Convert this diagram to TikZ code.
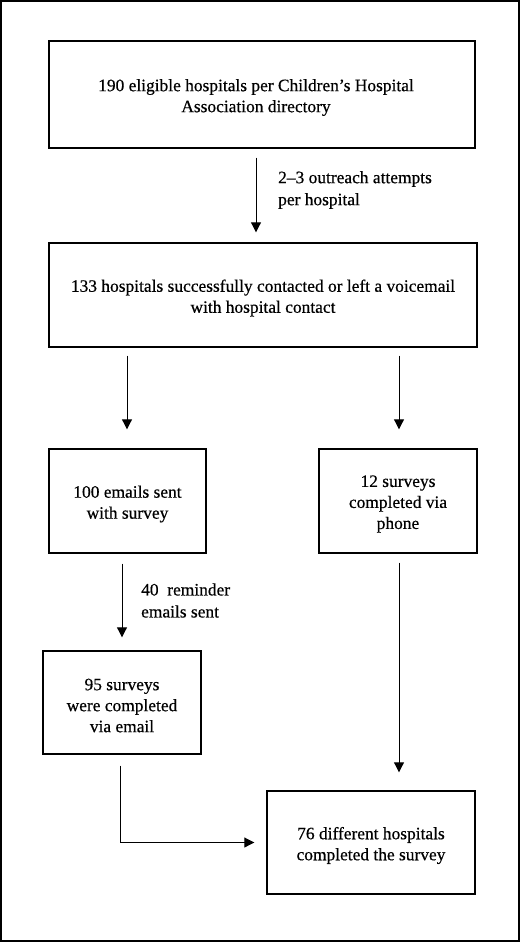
\documentclass[tikz,border=0pt]{standalone}
\usepackage{fontspec}
\setmainfont[FakeBold=0.5]{Liberation Serif}
\usetikzlibrary{arrows.meta}
\tikzset{
  box/.style={draw, line width=1.4pt, inner sep=0pt},
  txt/.style={align=center, inner sep=0pt, yshift=-3pt,
    font=\fontsize{17.4}{21}\selectfont},
  lbl/.style={anchor=west, align=left, inner sep=0pt,
    font=\fontsize{17.4}{22}\selectfont},
  arr/.style={line width=1pt, -{Triangle[length=10pt,width=10pt]}},
}
\begin{document}
\begin{tikzpicture}[x=1pt,y=1pt]
\useasboundingbox (0,0) rectangle (520,-942);
\draw[line width=2pt] (1,-1) rectangle (518.5,-940.5);
\node[box, minimum width=426pt, minimum height=107pt] (b1) at (262,-94.5) {};
\node[box, minimum width=428pt, minimum height=104pt] (b2) at (263,-295) {};
\node[box, minimum width=157pt, minimum height=104pt] (b3) at (127.5,-501) {};
\node[box, minimum width=158pt, minimum height=104pt] (b4) at (398,-501) {};
\node[box, minimum width=158pt, minimum height=103pt] (b5) at (122,-702.5) {};
\node[box, minimum width=208pt, minimum height=103pt] (b6) at (371,-842.5) {};
\node[txt, xshift=-6pt] (t1) at (b1.center)
  {190 eligible hospitals per Children’s Hospital\\Association directory};
\node[txt] (t2) at (b2.center)
  {133 hospitals successfully contacted or left a voicemail\\with hospital contact};
\node[txt] (t3) at (b3.center) {100 emails sent\\with survey};
\node[txt] (t4) at (b4.center) {12 surveys\\completed via\\phone};
\node[txt] (t5) at (b5.center) {95 surveys\\were completed\\via email};
\node[txt] (t6) at (b6.center) {76 different hospitals\\completed the survey};
\node[lbl] (l1) at (278,-190) {2–3 outreach attempts\\per hospital};
\node[lbl] (l2) at (141,-600.5) {40\ \ reminder\\emails sent};
\coordinate (c1) at (256,0);
\coordinate (c2) at (127,0);
\coordinate (c3) at (399,0);
\coordinate (c4) at (120,0);
\draw[arr, shorten <=9pt, shorten >=10pt] (b1.south -| c1) -- (b2.north -| c1);
\draw[arr, shorten <=8pt, shorten >=19pt] (b2.south -| c2) -- (b3.north -| c2);
\draw[arr, shorten <=8pt, shorten >=19pt] (b2.south -| c3) -- (b4.north -| c3);
\draw[arr, shorten <=10pt, shorten >=13pt] (b3.south -| b5.north) -- (b5.north);
\draw[arr, shorten <=9pt, shorten >=18pt] (b4.south -| c3) -- (b6.north -| c3);
\draw[arr, shorten <=11pt, shorten >=12pt] (b5.south -| c4) |- (b6.west);
\end{tikzpicture}
\end{document}
